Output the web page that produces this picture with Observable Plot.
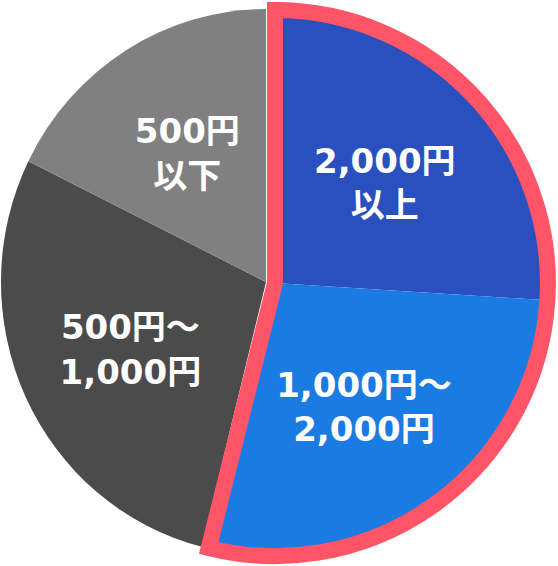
<!DOCTYPE html>
<html><head><meta charset="utf-8">
<script src="https://cdn.jsdelivr.net/npm/d3@7"></script>
<script src="https://cdn.jsdelivr.net/npm/@observablehq/plot@0.6"></script>
<style>body{margin:0;background:#fff;overflow:hidden}</style>
</head><body><div id="chart"></div>
<script>
const categories = ["2,000円以上", "1,000円～2,000円", "500円～1,000円", "500円以下"];
const labels = ["2,000円\n以上", "1,000円～\n2,000円", "500円～\n1,000円", "500円\n以下"];
const shares = [26.0, 27.9, 28.4, 17.7];
const colors = ["#2a4fbf", "#1a7be3", "#4b4b4b", "#808080"];
const highlighted = [true, true, false, false];
const highlightColor = "#ff5567";

const W = 558, H = 566;
const cx = 266, cy = 282, r = 265, yStretch = 1.03;
const rHi = 273, explode = 9, labelR = 150;

const data = categories.map((c, i) => ({category: c, label: labels[i], value: shares[i], color: colors[i], hi: highlighted[i]}));
const arcs = d3.pie().value(d => d.value).sort(null)(data);
const hiArcs = arcs.filter(a => a.data.hi);
const loArcs = arcs.filter(a => !a.data.hi);
const hiStart = d3.min(hiArcs, a => a.startAngle), hiEnd = d3.max(hiArcs, a => a.endAngle);
const hiMid = (hiStart + hiEnd) / 2;
const hx = cx + explode * Math.sin(hiMid), hy = cy - explode * Math.cos(hiMid);

const labelArc = d3.arc().innerRadius(labelR).outerRadius(labelR);
const labelData = arcs.map(a => {
  const [lx, ly] = labelArc.centroid(a);
  return a.data.hi ? {x: hx + lx, y: hy + ly, text: a.data.label}
                   : {x: cx + lx, y: cy + ly * yStretch, text: a.data.label};
});

function slices() {
  const root = d3.create("svg:g");
  const g = root.append("g").attr("transform", `translate(${cx},${cy}) scale(1,${yStretch})`);
  const arcGen = d3.arc().innerRadius(0).outerRadius(r);
  g.selectAll("path").data(loArcs).join("path").attr("d", arcGen).attr("fill", a => a.data.color);
  const h = root.append("g").attr("transform", `translate(${hx},${hy})`);
  const arcHi = d3.arc().innerRadius(0).outerRadius(rHi);
  h.selectAll("path.s").data(hiArcs).join("path").attr("class", "s").attr("d", arcHi).attr("fill", a => a.data.color);
  h.append("path")
    .attr("d", arcHi({startAngle: hiStart, endAngle: hiEnd}))
    .attr("fill", "none").attr("stroke", highlightColor)
    .attr("stroke-width", 16).attr("stroke-linejoin", "miter");
  return root.node();
}

const chart = Plot.plot({
  width: W, height: H, margin: 0,
  x: {type: "identity", axis: null},
  y: {type: "identity", axis: null},
  style: {background: "#fff"},
  marks: [
    slices,
    Plot.text(labelData, {
      x: "x", y: "y", text: "text", fill: "white",
      fontSize: 34, fontWeight: "bold", lineHeight: 1.3,
      fontFamily: "'DejaVu Sans', 'Noto Sans CJK JP', sans-serif"
    })
  ]
});
document.getElementById("chart").appendChild(chart);
</script>
</body></html>
